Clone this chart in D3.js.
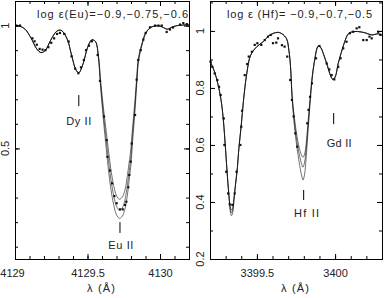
<!DOCTYPE html>
<html>
<head>
<meta charset="utf-8">
<script src="https://cdn.jsdelivr.net/npm/d3@7"></script>
<style>
body { margin: 0; background: #fff; }
svg { display: block; }
text { font-family: "Liberation Sans", Arial, sans-serif; fill: #222; }
</style>
</head>
<body>
<svg width="384" height="298"></svg>
<script>
// ---- Eu II 4129.7 region ----
var euWave = [4129.00,4129.03,4129.07,4129.11,4129.15,4129.18,4129.21,4129.25,4129.29,4129.32,
  4129.36,4129.39,4129.42,4129.44,4129.47,4129.50,4129.53,4129.555,4129.575,4129.59,
  4129.61,4129.63,4129.645,4129.66,4129.68,4129.70,4129.72,4129.74,4129.76,4129.775,
  4129.79,4129.80,4129.81,4129.82,4129.83,4129.84,4129.85,4129.865,4129.885,4129.90,
  4129.93,4129.96,4130.00,4130.03,4130.05,4130.08,4130.12,4130.20];
// log eps(Eu) = -0.9
var euSynLow = [1.000,0.998,0.985,0.950,0.905,0.890,0.900,0.945,0.978,0.980,
  0.945,0.880,0.820,0.808,0.845,0.910,0.942,0.935,0.880,0.780,
  0.665,0.565,0.490,0.420,0.350,0.308,0.293,0.302,0.335,0.390,
  0.455,0.505,0.580,0.645,0.715,0.795,0.865,0.905,0.946,0.970,
  0.990,0.998,0.998,0.990,0.985,0.993,1.000,1.003];
// log eps(Eu) = -0.75
var euSynMid = [1.000,0.998,0.985,0.950,0.905,0.890,0.900,0.945,0.978,0.980,
  0.945,0.880,0.820,0.808,0.845,0.910,0.942,0.935,0.875,0.765,
  0.640,0.530,0.450,0.380,0.310,0.265,0.249,0.258,0.295,0.350,
  0.420,0.470,0.550,0.620,0.695,0.780,0.855,0.900,0.943,0.968,
  0.990,0.998,0.998,0.990,0.985,0.993,1.000,1.003];
// log eps(Eu) = -0.6
var euSynHigh = [1.000,0.998,0.985,0.950,0.905,0.890,0.900,0.945,0.978,0.980,
  0.945,0.880,0.820,0.808,0.845,0.910,0.942,0.935,0.870,0.750,
  0.615,0.495,0.410,0.340,0.272,0.230,0.216,0.224,0.258,0.310,
  0.385,0.435,0.520,0.595,0.675,0.765,0.845,0.895,0.940,0.966,
  0.990,0.998,0.998,0.990,0.985,0.993,1.000,1.003];
var euObsWave = [4129.01,4129.035,4129.12,4129.135,4129.15,4129.17,4129.19,4129.21,4129.23,4129.25,
  4129.27,4129.29,4129.31,4129.34,4129.37,4129.39,4129.415,4129.437,4129.455,4129.475,
  4129.49,4129.51,4129.53,4129.57,4129.586,4129.614,4129.632,4129.638,4129.655,4129.669,
  4129.685,4129.701,4129.724,4129.743,4129.759,4129.768,4129.781,4129.788,4129.798,4129.805,
  4129.828,4129.839,4129.850,4129.867,4129.885,4129.901,4129.931,4129.966,4129.989,4130.012,
  4130.046,4130.069,4130.09,4130.138,4130.161,4130.185];
var euObsFlux = [1.000,1.000,0.948,0.936,0.922,0.905,0.902,0.900,0.912,0.930,
  0.948,0.966,0.970,0.966,0.935,0.875,0.825,0.806,0.830,0.860,
  0.900,0.918,0.936,0.880,0.775,0.630,0.534,0.466,0.410,0.358,
  0.306,0.277,0.252,0.252,0.270,0.283,0.342,0.392,0.446,0.520,
  0.636,0.780,0.860,0.900,0.943,0.970,0.993,1.000,1.000,1.000,
  0.974,0.984,0.992,1.004,1.010,1.006];

// ---- Hf II 3399.8 region ----
var hfWave = [3399.20,3399.23,3399.25,3399.27,3399.285,3399.30,3399.31,3399.32,3399.33,3399.337,
  3399.345,3399.355,3399.365,3399.375,3399.385,3399.40,3399.415,3399.435,3399.46,3399.50,
  3399.54,3399.58,3399.63,3399.66,3399.69,3399.705,3399.715,3399.725,3399.74,3399.755,
  3399.77,3399.785,3399.795,3399.805,3399.815,3399.825,3399.84,3399.855,3399.87,3399.885,
  3399.895,3399.91,3399.93,3399.95,3399.965,3399.985,3400.00,3400.02,3400.04,3400.06,
  3400.085,3400.11,3400.16,3400.20,3400.235,3400.275,3400.30];
// log eps(Hf) = -0.9
var hfSynLow = [0.895,0.855,0.815,0.760,0.690,0.580,0.500,0.430,0.382,0.372,
  0.380,0.420,0.470,0.520,0.590,0.670,0.760,0.850,0.915,0.945,
  0.962,0.984,0.995,0.990,0.972,0.930,0.875,0.775,0.695,0.635,
  0.592,0.565,0.557,0.568,0.605,0.668,0.762,0.845,0.900,0.940,
  0.948,0.940,0.912,0.880,0.852,0.830,0.838,0.886,0.925,0.960,
  0.990,0.997,0.997,0.992,0.986,0.990,0.986];
// log eps(Hf) = -0.7
var hfSynMid = [0.895,0.855,0.815,0.760,0.690,0.580,0.500,0.430,0.375,0.362,
  0.372,0.420,0.470,0.520,0.590,0.670,0.760,0.850,0.915,0.945,
  0.962,0.984,0.995,0.990,0.972,0.930,0.875,0.770,0.680,0.615,
  0.570,0.535,0.522,0.540,0.585,0.650,0.755,0.845,0.900,0.940,
  0.948,0.940,0.912,0.880,0.852,0.830,0.838,0.886,0.925,0.960,
  0.990,0.997,0.997,0.992,0.986,0.990,0.986];
// log eps(Hf) = -0.5
var hfSynHigh = [0.895,0.855,0.815,0.760,0.690,0.580,0.500,0.430,0.365,0.352,
  0.362,0.420,0.470,0.520,0.590,0.670,0.760,0.850,0.915,0.945,
  0.962,0.984,0.995,0.990,0.972,0.930,0.875,0.765,0.665,0.595,
  0.540,0.495,0.477,0.498,0.555,0.632,0.745,0.840,0.900,0.940,
  0.948,0.940,0.912,0.880,0.852,0.830,0.838,0.886,0.925,0.960,
  0.990,0.997,0.997,0.992,0.986,0.990,0.986];
var hfObsWave = [3399.204,3399.215,3399.23,3399.247,3399.258,3399.268,3399.288,3399.292,3399.304,3399.316,
  3399.326,3399.343,3399.358,3399.37,3399.394,3399.40,3399.405,3399.422,3399.438,3399.448,
  3399.468,3399.486,3399.503,3399.528,3399.55,3399.571,3399.588,3399.603,3399.624,3399.635,
  3399.66,3399.677,3399.694,3399.713,3399.724,3399.735,3399.746,3399.758,3399.822,3399.83,
  3399.84,3399.852,3399.878,3399.90,3399.946,3399.963,3399.978,3399.995,3400.02,3400.035,
  3400.052,3400.073,3400.095,3400.116,3400.138,3400.155,3400.18,3400.202,3400.22,3400.234,
  3400.276,3400.29];
var hfObsFlux = [0.892,0.874,0.851,0.828,0.804,0.775,0.693,0.600,0.506,0.430,
  0.392,0.390,0.430,0.506,0.600,0.664,0.720,0.845,0.884,0.910,
  0.927,0.951,0.957,0.951,0.968,0.980,0.986,0.957,0.959,0.974,
  0.950,0.945,0.910,0.828,0.758,0.700,0.641,0.594,0.676,0.723,
  0.769,0.816,0.904,0.947,0.886,0.865,0.845,0.830,0.874,0.904,
  0.939,0.962,0.992,0.997,1.009,1.013,0.968,0.968,0.980,0.974,
  0.997,0.986];

// ---- tick labels ----
var euXTicks = [4129, 4129.5, 4130];
var euYTicks = [0.5, 1];
var hfXTicks = [3399.5, 3400];
var hfYTicks = [0.2, 0.4, 0.6, 0.8, 1];

var svg = d3.select("svg");

function drawPanel(p) {
  var x = d3.scaleLinear().domain(p.xDomain).range([p.left, p.right]);
  var y = d3.scaleLinear().domain(p.yDomain).range([p.bottom, p.top]);
  var g = svg.append("g");

  var line = d3.line()
    .x(function(d) { return x(d[0]); })
    .y(function(d) { return y(d[1]); })
    .curve(d3.curveCatmullRom.alpha(0.5));

  p.syn.forEach(function(arr) {
    g.append("path")
      .datum(p.wave.map(function(w, i) { return [w, arr[i]]; }))
      .attr("d", line)
      .attr("fill", "none")
      .attr("stroke", "#000")
      .attr("stroke-width", 1.0)
      .attr("stroke-opacity", 0.55);
  });

  g.selectAll("rect.obs")
    .data(p.obsWave.map(function(w, i) { return [w, p.obsFlux[i]]; }))
    .enter()
    .append("rect")
    .attr("class", "obs")
    .attr("x", function(d) { return x(d[0]) - 1.1; })
    .attr("y", function(d) { return y(d[1]) - 1.1; })
    .attr("width", 2.2)
    .attr("height", 2.2)
    .attr("fill", "#111");

  // frame
  g.append("rect")
    .attr("x", p.left + 0.5).attr("y", p.top + 0.5)
    .attr("width", p.right - p.left).attr("height", p.bottom - p.top)
    .attr("fill", "none").attr("stroke", "#000").attr("stroke-width", 1);

  var minorX = d3.range(Math.ceil(p.xDomain[0] * 10 - 1e-6), Math.floor(p.xDomain[1] * 10 + 1e-6) + 1).map(function(k) { return k / 10; });
  var minorY = d3.range(Math.ceil(p.yDomain[0] * 10 - 1e-6), Math.floor(p.yDomain[1] * 10 + 1e-6) + 1).map(function(k) { return k / 10; });

  function ticks(axis, tr, vals, size) {
    var a = g.append("g").attr("transform", tr)
      .call(axis.tickValues(vals).tickSize(-size).tickSizeOuter(0).tickFormat(""));
    a.select(".domain").remove();
    a.selectAll("line").attr("stroke", "#000");
    return a;
  }
  ticks(d3.axisTop(x), "translate(0," + p.top + ")", minorX, 3);
  ticks(d3.axisTop(x), "translate(0," + p.top + ")", p.xTicks, 5);
  ticks(d3.axisBottom(x), "translate(0," + p.bottom + ")", minorX, 3);
  ticks(d3.axisLeft(y), "translate(" + p.left + ",0)", minorY, 3);
  ticks(d3.axisLeft(y), "translate(" + p.left + ",0)", p.yTicks, 5);
  ticks(d3.axisRight(y), "translate(" + p.right + ",0)", minorY, 3);
  ticks(d3.axisRight(y), "translate(" + p.right + ",0)", p.yTicks, 5);

  var bx = g.append("g").attr("transform", "translate(0," + p.bottom + ")")
    .call(d3.axisBottom(x).tickValues(p.xTicks).tickSize(-5).tickSizeOuter(0).tickPadding(10)
      .tickFormat(function(d) { return String(d); }));
  bx.select(".domain").remove();
  bx.selectAll("line").attr("stroke", "#000");
  bx.selectAll("text").attr("font-size", 11).attr("font-family", null).style("fill", "#222")
    .attr("dx", function(d) { return d === p.xDomain[0] ? -3 : 0; });

  g.selectAll("text.ylab")
    .data(p.yTicks)
    .enter()
    .append("text")
    .attr("class", "ylab")
    .attr("x", p.left - 10)
    .attr("y", function(d) { return y(d); })
    .attr("transform", function(d) { return "rotate(-90," + (p.left - 10) + "," + y(d) + ")"; })
    .attr("text-anchor", "middle")
    .attr("dominant-baseline", "central")
    .attr("font-size", 11)
    .text(function(d) { return String(d); });

  g.append("text")
    .attr("x", p.titleX).attr("y", 18)
    .attr("font-size", 11)
    .attr("textLength", p.titleW).attr("lengthAdjust", "spacing")
    .text(p.title);

  g.append("text")
    .attr("x", (p.left + p.right) / 2 - 1).attr("y", 292)
    .attr("text-anchor", "middle")
    .attr("font-size", 11)
    .attr("textLength", 28).attr("lengthAdjust", "spacing")
    .text("\u03bb (\u00c5)");

  p.marks.forEach(function(m) {
    g.append("line")
      .attr("x1", x(m.wave)).attr("x2", x(m.wave))
      .attr("y1", y(m.top)).attr("y2", y(m.bottom))
      .attr("stroke", "#000").attr("stroke-width", 1);
    g.append("text")
      .attr("x", x(m.textWave)).attr("y", y(m.textY))
      .attr("text-anchor", "middle")
      .attr("font-size", 11)
      .attr("textLength", 25).attr("lengthAdjust", "spacing")
      .text(m.label);
  });
}

drawPanel({
  left: 15, right: 189, top: 1, bottom: 259,
  xDomain: [4129, 4130.2], yDomain: [0.05, 1.1],
  wave: euWave, syn: [euSynLow, euSynMid, euSynHigh],
  obsWave: euObsWave, obsFlux: euObsFlux,
  xTicks: euXTicks, yTicks: euYTicks,
  title: "log \u03b5(Eu)=\u22120.9,\u22120.75,\u22120.6", titleX: 37, titleW: 151,
  marks: [
    { label: "Dy II", wave: 4129.44, top: 0.717, bottom: 0.672, textWave: 4129.44, textY: 0.597 },
    { label: "Eu II", wave: 4129.724, top: 0.20, bottom: 0.156, textWave: 4129.73, textY: 0.091 }
  ]
});

drawPanel({
  left: 210, right: 382, top: 1, bottom: 259,
  xDomain: [3399.2, 3400.3], yDomain: [0.2, 1.105],
  wave: hfWave, syn: [hfSynLow, hfSynMid, hfSynHigh],
  obsWave: hfObsWave, obsFlux: hfObsFlux,
  xTicks: hfXTicks, yTicks: hfYTicks,
  title: "log \u03b5 (Hf)= \u22120.9,\u22120.7,\u22120.5", titleX: 227, titleW: 145,
  marks: [
    { label: "Gd II", wave: 3399.991, top: 0.712, bottom: 0.673, textWave: 3400.026, textY: 0.593 },
    { label: "Hf II", wave: 3399.799, top: 0.442, bottom: 0.407, textWave: 3399.817, textY: 0.347 }
  ]
});
</script>
</body>
</html>
